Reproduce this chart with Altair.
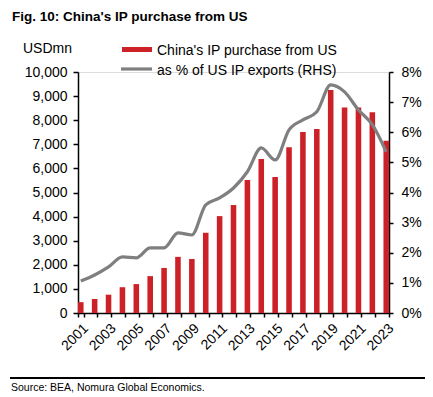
import altair as alt
import pandas as pd

years = [str(y) for y in range(2001, 2024)]
purchase = [450, 580, 760, 1070, 1200, 1530, 1870, 2330, 2240, 3330, 4020, 4480,
            5520, 6390, 5640, 6880, 7510, 7630, 9250, 8530, 8530, 8330, 7150]
pct = [1.06, 1.26, 1.53, 1.86, 1.83, 2.16, 2.16, 2.66, 2.59, 3.59, 3.82, 4.15,
       4.69, 5.48, 5.08, 6.08, 6.41, 6.68, 7.57, 7.34, 6.74, 6.25, 5.35]

title_text = "Fig. 10: China's IP purchase from US"
unit_text = "USDmn"
legend_bar = "China's IP purchase from US"
legend_line = "as % of US IP exports (RHS)"
source_text = "Source: BEA, Nomura Global Economics."

FONT = "Liberation Sans"
RED = "#cc2127"
GREY = "#7f7f7f"

df = pd.DataFrame({"year": years, "purchase": purchase, "pct": [p / 100 for p in pct]})

xenc = alt.X("year:O", title=None,
             scale=alt.Scale(paddingInner=0.6, paddingOuter=0.0),
             axis=alt.Axis(labelAngle=-45, labelFontSize=14, labelFont=FONT, labelColor="black",
                           labelExpr="toNumber(datum.value) % 2 == 1 ? datum.label : ''",
                           tickBand="extent", tickSize=4, tickColor="black", tickWidth=1.5,
                           domainColor="black", domainWidth=1.5, labelPadding=4))

base = alt.Chart(df)

bars = base.mark_bar(color=RED).encode(
    x=xenc,
    y=alt.Y("purchase:Q", title=None,
            scale=alt.Scale(domain=[0, 10000]),
            axis=alt.Axis(values=list(range(0, 10001, 1000)), format=",d", labelFontSize=14,
                          labelFont=FONT, labelColor="black", grid=False, tickSize=5,
                          tickColor="black", tickWidth=1.5, domainColor="black",
                          domainWidth=1.5, labelPadding=6)),
)

line = base.mark_line(color=GREY, strokeWidth=3.2, interpolate="monotone").encode(
    x=xenc,
    y=alt.Y("pct:Q", title=None,
            scale=alt.Scale(domain=[0, 0.08]),
            axis=alt.Axis(orient="right", values=[i / 100 for i in range(0, 9)], format=".0%",
                          labelFontSize=14, labelFont=FONT, labelColor="black", grid=False,
                          tickSize=4, tickColor="black", tickWidth=1.5, domainColor="black",
                          domainWidth=1.5, labelPadding=8)),
)


def label(text, x, y, size=14, weight="normal"):
    return alt.Chart(pd.DataFrame({"t": [text]})).mark_text(
        align="left", baseline="alphabetic", font=FONT, fontSize=size,
        fontWeight=weight, color="black"
    ).encode(text="t:N", x=alt.value(x), y=alt.value(y))


title = label(title_text, -66, -51, size=13.5, weight="bold")
unit = label(unit_text, -55, -19)
leg1_txt = label(legend_bar, 79, -17)
leg2_txt = label(legend_line, 79, 3)
source = label(source_text, -67, 319, size=10.5)

leg1_sw = alt.Chart(pd.DataFrame({"a": [0]})).mark_rect(color=RED).encode(
    x=alt.value(44), x2=alt.value(74), y=alt.value(-25), y2=alt.value(-20))
leg2_sw = alt.Chart(pd.DataFrame({"a": [0]})).mark_rule(color=GREY, strokeWidth=3.2).encode(
    x=alt.value(43), x2=alt.value(74), y=alt.value(-3))
src_rule = alt.Chart(pd.DataFrame({"a": [0]})).mark_rule(color="black", strokeWidth=2).encode(
    x=alt.value(-68), x2=alt.value(352), y=alt.value(306))

chart = alt.layer(
    bars, line, title, unit, leg1_sw, leg1_txt, leg2_sw, leg2_txt, src_rule, source
).resolve_scale(y="independent").properties(
    width=311, height=241,
    autosize=alt.AutoSizeParams(type="none"),
    padding={"left": 70, "top": 64, "right": 36, "bottom": 90},
).configure_view(stroke=None).configure(background="white")

chart.save("out.html", embed_options={"renderer": "svg", "actions": False})
